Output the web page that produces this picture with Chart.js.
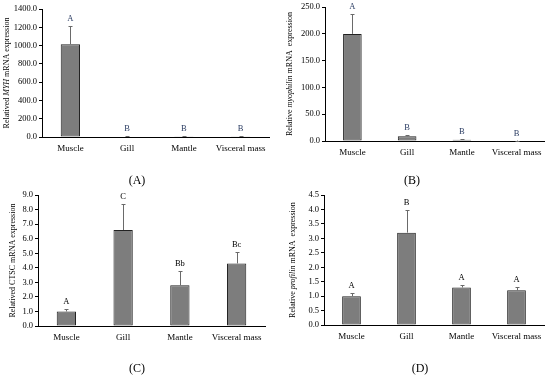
<!DOCTYPE html>
<html>
<head>
<meta charset="utf-8">
<script src="https://cdn.jsdelivr.net/npm/chart.js@4.4.1/dist/chart.umd.min.js"></script>
<style>
  body { margin: 0; background: #fff; }
  #wrap { position: relative; width: 550px; height: 376px; overflow: hidden; }
  canvas { position: absolute; }
  .cap { position: absolute; font: 12px "Liberation Serif", serif; color: #000; transform: translateX(-50%); }
</style>
</head>
<body>
<div id="wrap">
  <canvas id="chartA" width="275" height="188" style="left:0;top:0"></canvas>
  <canvas id="chartB" width="275" height="188" style="left:275px;top:0"></canvas>
  <canvas id="chartC" width="275" height="188" style="left:0;top:188px"></canvas>
  <canvas id="chartD" width="275" height="188" style="left:275px;top:188px"></canvas>
  <div class="cap" style="left:137px;top:173px">(A)</div>
  <div class="cap" style="left:412px;top:173px">(B)</div>
  <div class="cap" style="left:137px;top:361px">(C)</div>
  <div class="cap" style="left:420px;top:361px">(D)</div>
</div>
<script>
// tecidos
const categories = ['Muscle', 'Gill', 'Mantle', 'Visceral mass'];

// (A) MYH
const myhValues = [1015, 5, 4, 4];
const myhErrors = [1210, 9, 7, 7];
const myhLetters = ['A', 'B', 'B', 'B'];
const myhTicks = [0, 200, 400, 600, 800, 1000, 1200, 1400];

// (B) myophilin
const myophilinValues = [200, 9, 2.5, 0.8];
const myophilinErrors = [237, 12, 3.5, 0.9];
const myophilinLetters = ['A', 'B', 'B', 'B'];
const myophilinTicks = [0, 50, 100, 150, 200, 250];

// (C) CTSC
const ctscValues = [1.0, 6.6, 2.8, 4.3];
const ctscErrors = [1.2, 8.4, 3.8, 5.1];
const ctscLetters = ['A', 'C', 'Bb', 'Bc'];
const ctscTicks = [0, 1, 2, 3, 4, 5, 6, 7, 8, 9];

// (D) profilin
const profilinValues = [1.0, 3.2, 1.3, 1.2];
const profilinErrors = [1.1, 4.0, 1.4, 1.3];
const profilinLetters = ['A', 'B', 'A', 'A'];
const profilinTicks = [0, 0.5, 1, 1.5, 2, 2.5, 3, 3.5, 4, 4.5];

const serif = '"Liberation Serif", "DejaVu Serif", serif';

// barras de erro + letras
const errorBars = {
    id: 'errorBars',
    afterDatasetsDraw(chart, args, opts) {
        const ctx = chart.ctx;
        const y = chart.scales.y;
        const meta = chart.getDatasetMeta(0);
        ctx.save();
        meta.data.forEach((bar, i) => {
            const top = Math.round(y.getPixelForValue(opts.errors[i]));
            const x = Math.round(bar.x) + 0.5;
            ctx.strokeStyle = '#6a6a6a';
            ctx.lineWidth = 1;
            ctx.beginPath();
            ctx.moveTo(x, bar.y);
            ctx.lineTo(x, top);
            ctx.moveTo(x - 2, top + 0.5);
            ctx.lineTo(x + 2, top + 0.5);
            ctx.stroke();
            ctx.fillStyle = opts.letterColor;
            ctx.font = '8.5px ' + serif;
            ctx.textAlign = 'center';
            ctx.textBaseline = 'bottom';
            ctx.fillText(opts.letters[i], bar.x, top - 3);
        });
        ctx.restore();
    }
};

// título do eixo y com partes em itálico
const yTitle = {
    id: 'yTitle',
    afterDraw(chart, args, opts) {
        const ctx = chart.ctx;
        const area = chart.chartArea;
        ctx.save();
        let total = 0;
        const widths = opts.parts.map(p => {
            ctx.font = (p.italic ? 'italic ' : '') + '8px ' + serif;
            const w = ctx.measureText(p.text).width;
            total += w;
            return w;
        });
        ctx.translate(opts.x, (area.top + area.bottom) / 2);
        ctx.rotate(-Math.PI / 2);
        ctx.fillStyle = '#000';
        ctx.textBaseline = 'middle';
        let pos = -total / 2;
        opts.parts.forEach((p, i) => {
            ctx.font = (p.italic ? 'italic ' : '') + '8px ' + serif;
            ctx.fillText(p.text, pos, 0);
            pos += widths[i];
        });
        ctx.restore();
    }
};

function makeChart(id, values, errors, letters, ticks, box, titleParts, titleX, letterColor) {
    const ctx = document.getElementById(id).getContext('2d');
    return new Chart(ctx, {
        type: 'bar',
        data: {
            labels: categories,
            datasets: [{
                data: values,
                backgroundColor: '#7d7d7d',
                borderColor: '#222',
                borderWidth: 1,
                borderSkipped: false,
                categoryPercentage: 1,
                barPercentage: 0.34
            }]
        },
        options: {
            responsive: false,
            animation: false,
            devicePixelRatio: 1,
            layout: { padding: { left: 0, top: box.top, right: 275 - box.right, bottom: 0 } },
            plugins: {
                legend: { display: false },
                tooltip: { enabled: false },
                errorBars: { errors: errors, letters: letters, letterColor: letterColor },
                yTitle: { parts: titleParts, x: titleX }
            },
            scales: {
                x: {
                    grid: { display: false },
                    border: { display: true, color: '#000', width: 1 },
                    ticks: { color: '#000', font: { family: serif, size: 9 }, padding: -2, maxRotation: 0 },
                    afterFit: (s) => { s.height = 188 - box.bottom; }
                },
                y: {
                    min: ticks[0],
                    max: ticks[ticks.length - 1],
                    afterBuildTicks: (s) => { s.ticks = ticks.map(v => ({ value: v })); },
                    grid: { drawOnChartArea: false, drawTicks: true, tickLength: 3, color: '#000' },
                    border: { display: true, color: '#000', width: 1 },
                    ticks: {
                        color: '#000',
                        font: { family: serif, size: 8.5 },
                        padding: 2,
                        callback: (v) => Number(v).toFixed(1)
                    },
                    afterFit: (s) => { s.width = box.left; }
                }
            }
        },
        plugins: [errorBars, yTitle]
    });
}

makeChart('chartA', myhValues, myhErrors, myhLetters, myhTicks,
    { left: 42, top: 9, right: 269, bottom: 137 },
    [{ text: 'Relatived ' }, { text: 'MYH', italic: true }, { text: ' mRNA expression' }], 7, '#2b3d63');

makeChart('chartB', myophilinValues, myophilinErrors, myophilinLetters, myophilinTicks,
    { left: 50, top: 7, right: 269, bottom: 141 },
    [{ text: 'Relative ' }, { text: 'myophilin', italic: true }, { text: ' mRNA  expression' }], 15, '#2b3d63');

makeChart('chartC', ctscValues, ctscErrors, ctscLetters, ctscTicks,
    { left: 38, top: 7, right: 265, bottom: 138 },
    [{ text: 'Relatived CTSC mRNA expression' }], 13, '#000');

makeChart('chartD', profilinValues, profilinErrors, profilinLetters, profilinTicks,
    { left: 49, top: 5, right: 269, bottom: 137 },
    [{ text: 'Relative ' }, { text: 'profilin', italic: true }, { text: ' mRNA  expression' }], 18, '#000');
</script>
</body>
</html>
